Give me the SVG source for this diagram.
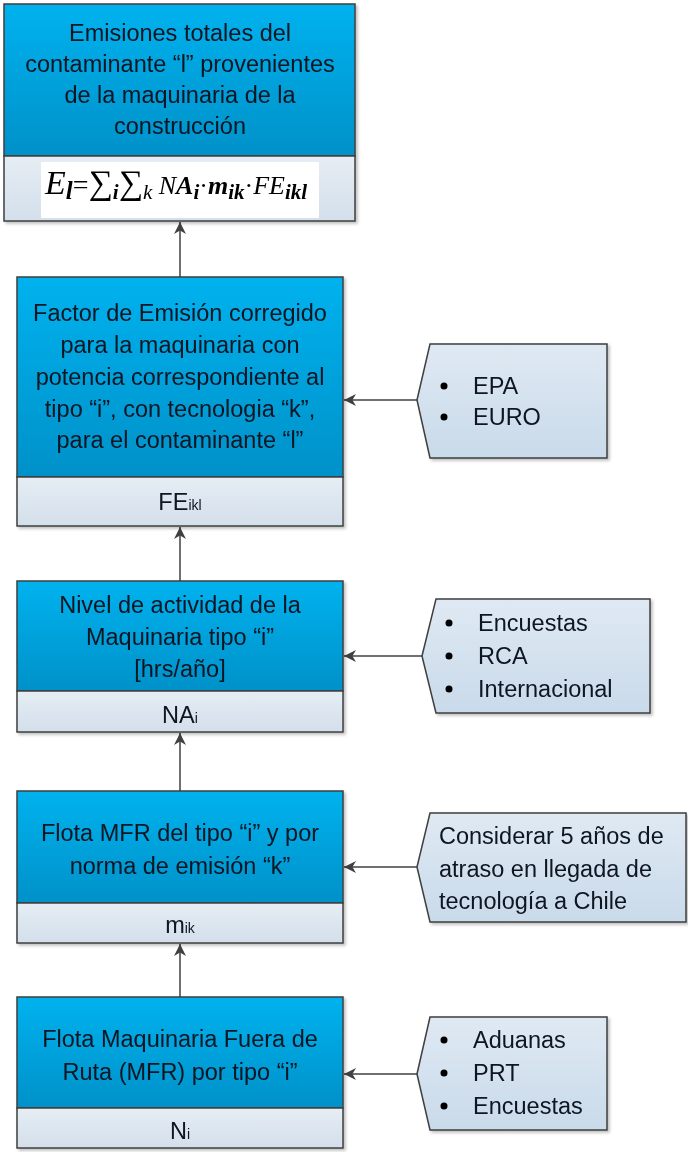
<svg xmlns="http://www.w3.org/2000/svg" width="688" height="1152" viewBox="0 0 688 1152">
<defs>
<linearGradient id="gBlue" x1="0" y1="0" x2="0" y2="1">
<stop offset="0" stop-color="#00B2EE"/>
<stop offset="1" stop-color="#0091C9"/>
</linearGradient>
<linearGradient id="gGray" x1="0" y1="0" x2="0" y2="1">
<stop offset="0" stop-color="#E6EDF4"/>
<stop offset="1" stop-color="#D3DFEB"/>
</linearGradient>
<linearGradient id="gCall" x1="0" y1="0" x2="0" y2="1">
<stop offset="0" stop-color="#DFE9F3"/>
<stop offset="1" stop-color="#C9DAEA"/>
</linearGradient>
<filter id="sh" x="-5%" y="-5%" width="115%" height="115%">
<feDropShadow dx="2" dy="2" stdDeviation="1.5" flood-color="#000" flood-opacity="0.25"/>
</filter>
<marker id="ah" viewBox="0 0 10 10" refX="10" refY="5" markerWidth="6" markerHeight="6" orient="auto">
<path d="M0,0 L10,5 L0,10 L3,5 Z" fill="#404040"/>
</marker>
</defs>
<style>
.blue{fill:url(#gBlue);stroke:#3F3F3F;stroke-width:1.5}
.gray{fill:url(#gGray);stroke:#3F3F3F;stroke-width:1.5}
.call{fill:url(#gCall);stroke:#3F3F3F;stroke-width:1.5}
.t{font-family:"Liberation Sans",Arial,sans-serif;font-size:23.5px;fill:#0d1420;text-anchor:middle}
.c{font-family:"Liberation Sans",Arial,sans-serif;font-size:23.5px;fill:#0d1420}
.sub{font-size:14px}
.f{font-family:"Liberation Serif","Times New Roman",serif;font-style:italic;fill:#000}
.conn{stroke:#707070;stroke-width:2;fill:none;marker-end:url(#ah)}
</style>

<g id="connectors">
<line class="conn" x1="180" y1="277" x2="180" y2="222"/>
<line class="conn" x1="180" y1="581" x2="180" y2="527"/>
<line class="conn" x1="180" y1="791" x2="180" y2="733"/>
<line class="conn" x1="180" y1="997" x2="180" y2="944"/>
<line class="conn" x1="417" y1="400" x2="344" y2="400"/>
<line class="conn" x1="422" y1="656" x2="344" y2="656"/>
<line class="conn" x1="417" y1="867" x2="344" y2="867"/>
<line class="conn" x1="417" y1="1074" x2="344" y2="1074"/>
</g>

<g id="node-emisiones" filter="url(#sh)">
<rect class="blue" x="4" y="4" width="351" height="152"/>
<rect class="gray" x="4" y="156" width="351" height="65"/>
<rect x="41" y="162" width="278" height="56" fill="#fff"/>
<text class="t" x="180" y="41">Emisiones totales del</text>
<text class="t" x="180" y="72">contaminante “l” provenientes</text>
<text class="t" x="180" y="103">de la maquinaria de la</text>
<text class="t" x="180" y="134">construcción</text>
<text class="f" x="45" y="194"><tspan font-size="34">E</tspan><tspan font-size="25" dy="5" font-weight="bold">l</tspan><tspan font-size="28" dy="-5" font-style="normal">=</tspan><tspan font-size="34" font-style="normal">∑</tspan><tspan font-size="21" dy="5" font-weight="bold">i</tspan><tspan font-size="34" dy="-5" font-style="normal">∑</tspan><tspan font-size="21" dy="5">k</tspan><tspan font-size="26" dy="-5"> N</tspan><tspan font-size="26" font-weight="bold">A</tspan><tspan font-size="21" dy="5" font-weight="bold">i</tspan><tspan font-size="26" dy="-5" font-style="normal">·</tspan><tspan font-size="26" font-weight="bold">m</tspan><tspan font-size="21" dy="5" font-weight="bold">ik</tspan><tspan font-size="26" dy="-5" font-style="normal">·</tspan><tspan font-size="26">FE</tspan><tspan font-size="21" dy="5" font-weight="bold">ikl</tspan></text>
</g>

<g id="node-factor" filter="url(#sh)">
<rect class="blue" x="17" y="277" width="326" height="200"/>
<rect class="gray" x="17" y="477" width="326" height="49"/>
<text class="t" x="180" y="321">Factor de Emisión corregido</text>
<text class="t" x="180" y="353">para la maquinaria con</text>
<text class="t" x="180" y="385">potencia correspondiente al</text>
<text class="t" x="180" y="417">tipo “i”, con tecnologia “k”,</text>
<text class="t" x="180" y="448">para el contaminante “l”</text>
<text class="t" x="180" y="510">FE<tspan class="sub">ikl</tspan></text>
</g>

<g id="node-nivel" filter="url(#sh)">
<rect class="blue" x="17" y="581" width="326" height="110"/>
<rect class="gray" x="17" y="691" width="326" height="41"/>
<text class="t" x="180" y="613">Nivel de actividad de la</text>
<text class="t" x="180" y="645">Maquinaria tipo “i”</text>
<text class="t" x="180" y="677">[hrs/año]</text>
<text class="t" x="180" y="723">NA<tspan class="sub">i</tspan></text>
</g>

<g id="node-flota-mfr" filter="url(#sh)">
<rect class="blue" x="17" y="791" width="326" height="112"/>
<rect class="gray" x="17" y="903" width="326" height="40"/>
<text class="t" x="180" y="841">Flota MFR del tipo “i” y por</text>
<text class="t" x="180" y="874">norma de emisión “k”</text>
<text class="t" x="180" y="933">m<tspan class="sub">ik</tspan></text>
</g>

<g id="node-flota-maq" filter="url(#sh)">
<rect class="blue" x="17" y="997" width="326" height="111"/>
<rect class="gray" x="17" y="1108" width="326" height="40"/>
<text class="t" x="180" y="1047">Flota Maquinaria Fuera de</text>
<text class="t" x="180" y="1080">Ruta (MFR) por tipo “i”</text>
<text class="t" x="180" y="1139">N<tspan class="sub">i</tspan></text>
</g>

<g id="callout-epa" filter="url(#sh)">
<path class="call" d="M417,400 L430,344 L607,344 L607,458 L430,458 Z"/>
<circle cx="444" cy="386" r="3.5" fill="#000"/>
<circle cx="444" cy="417" r="3.5" fill="#000"/>
<text class="c" x="473" y="394">EPA</text>
<text class="c" x="473" y="425">EURO</text>
</g>

<g id="callout-encuestas" filter="url(#sh)">
<path class="call" d="M422,656 L436,599 L650,599 L650,713 L436,713 Z"/>
<circle cx="449" cy="623" r="3.5" fill="#000"/>
<circle cx="449" cy="656" r="3.5" fill="#000"/>
<circle cx="449" cy="689" r="3.5" fill="#000"/>
<text class="c" x="478" y="631">Encuestas</text>
<text class="c" x="478" y="664">RCA</text>
<text class="c" x="478" y="697">Internacional</text>
</g>

<g id="callout-atraso" filter="url(#sh)">
<path class="call" d="M417,867 L430,813 L686,813 L686,922 L430,922 Z"/>
<text class="c" x="439" y="844">Considerar 5 años de</text>
<text class="c" x="439" y="877">atraso en llegada de</text>
<text class="c" x="439" y="909">tecnología a Chile</text>
</g>

<g id="callout-aduanas" filter="url(#sh)">
<path class="call" d="M417,1074 L430,1017 L607,1017 L607,1130 L430,1130 Z"/>
<circle cx="444" cy="1040" r="3.5" fill="#000"/>
<circle cx="444" cy="1073" r="3.5" fill="#000"/>
<circle cx="444" cy="1106" r="3.5" fill="#000"/>
<text class="c" x="473" y="1048">Aduanas</text>
<text class="c" x="473" y="1081">PRT</text>
<text class="c" x="473" y="1114">Encuestas</text>
</g>
</svg>
